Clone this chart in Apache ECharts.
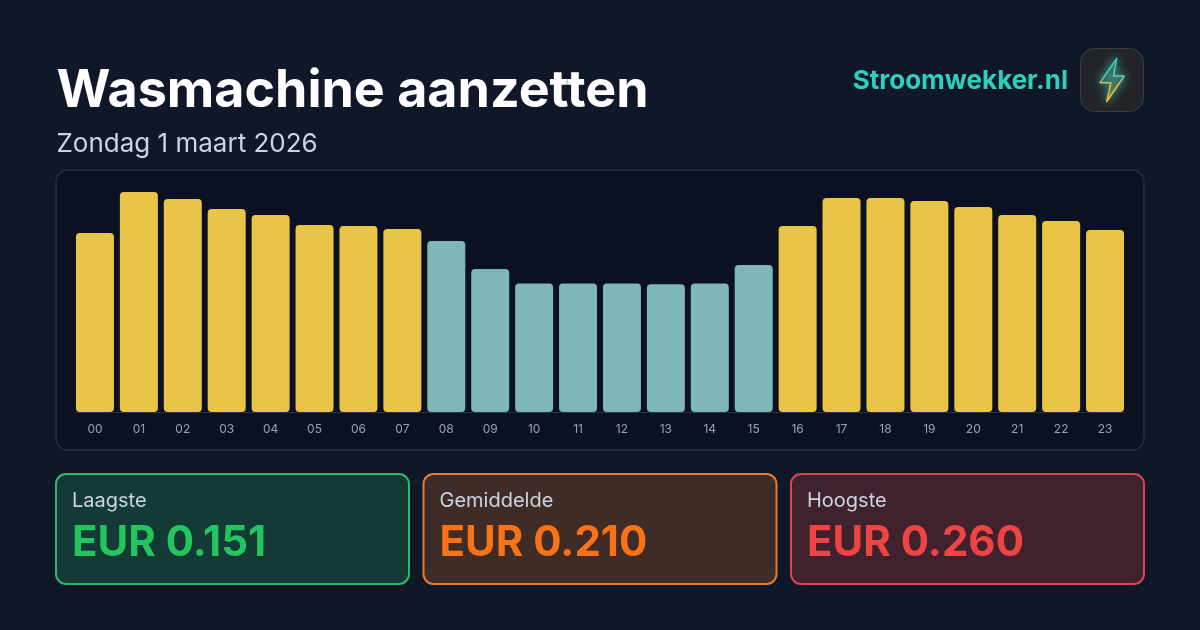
<!DOCTYPE html>
<html>
<head>
<meta charset="utf-8">
<style>html,body{margin:0;padding:0;background:#0f1729}#c{width:1200px;height:630px}</style>
<script src="https://cdn.jsdelivr.net/npm/echarts@6/dist/echarts.min.js"></script>
</head>
<body>
<div id="c"></div>
<script>
const hours = ['00','01','02','03','04','05','06','07','08','09','10','11','12','13','14','15','16','17','18','19','20','21','22','23'];
const prices = [0.2115,0.260,0.2517,0.240,0.2328,0.221,0.2198,0.2163,0.2021,0.169,0.152,0.152,0.152,0.151,0.152,0.1737,0.2198,0.2529,0.2529,0.2494,0.2423,0.2328,0.2257,0.2151];
const cheapHours = ['08','09','10','11','12','13','14','15'];
const titleText = 'Wasmachine aanzetten';
const subtitleText = 'Zondag 1 maart 2026';
const brandText = 'Stroomwekker.nl';
const statLabels = ['Laagste','Gemiddelde','Hoogste'];
const statValues = ['EUR 0.151','EUR 0.210','EUR 0.260'];

const FONT = 'Inter, "Noto Sans", sans-serif';
const statColors = [
  {line:'#2fb866', fill:'#143a35', text:'#22c55e'},
  {line:'#e67a2c', fill:'#402c27', text:'#f97316'},
  {line:'#d9474d', fill:'#40212e', text:'#ef4444'}
];
const statX = [56, 423.5, 791];
const statW = 353;

const cards = statLabels.flatMap((label, i) => [
  {type:'rect', silent:true, shape:{x:statX[i], y:474, width:statW, height:110, r:10},
   style:{fill:statColors[i].fill, stroke:statColors[i].line, lineWidth:2}},
  {type:'text', silent:true, style:{text:label, x:statX[i]+16, y:501, fill:'#cbd5e1', font:'400 20px '+FONT, textVerticalAlign:'middle'}},
  {type:'text', silent:true, style:{text:statValues[i], x:statX[i]+16, y:543.5, fill:statColors[i].text, font:'700 42px '+FONT, textVerticalAlign:'middle'}}
]);

const boltPts = [[1116.7,58.5],[1100,82.7],[1111,82.7],[1106.7,101.5],[1124.3,76],[1113.5,76]];
const boltStroke = {type:'linear',x:0,y:0,x2:0,y2:1,colorStops:[{offset:0,color:'#2dd4bf'},{offset:0.45,color:'#5fd0b0'},{offset:0.6,color:'#f0b84a'},{offset:1,color:'#fbbf24'}]};
const boltFill = {type:'linear',x:0,y:0,x2:0,y2:1,colorStops:[{offset:0,color:'rgba(30,120,115,0.7)'},{offset:0.5,color:'rgba(70,90,80,0.6)'},{offset:1,color:'rgba(190,130,40,0.7)'}]};

const chart = echarts.init(document.getElementById('c'), null, {renderer:'canvas'});
chart.setOption({
  animation:false,
  backgroundColor:'#0f1729',
  grid:{left:73, right:73, top:192, bottom:218},
  xAxis:{type:'category', data:hours,
    axisLine:{show:false}, axisTick:{show:false}, splitLine:{show:false},
    axisLabel:{color:'#94a3b8', fontSize:12, fontFamily:FONT, margin:11, interval:0}},
  yAxis:{type:'value', min:0, max:0.26, show:false},
  graphic:{elements:[
    {type:'rect', z:-10, silent:true, shape:{x:56,y:170,width:1088,height:280,r:12},
      style:{fill:'#0b1120', stroke:'#1e293b', lineWidth:2}},
    {type:'line', z:-5, silent:true, shape:{x1:76,y1:412.5,x2:1124,y2:412.5}, style:{stroke:'#263348', lineWidth:1}},
    {type:'text', silent:true, style:{text:titleText, x:56.5, y:91.5, fill:'#ffffff', font:'700 52px '+FONT, textVerticalAlign:'middle'}},
    {type:'text', silent:true, style:{text:subtitleText, x:56.5, y:144.5, fill:'#cbd5e1', font:'400 26px '+FONT, textVerticalAlign:'middle'}},
    {type:'text', silent:true, style:{text:brandText, x:1068, y:81.5, fill:'#2dd0bb', font:'700 26px '+FONT, textAlign:'right', textVerticalAlign:'middle'}},
    {type:'rect', silent:true, shape:{x:1080.5,y:48.5,width:63,height:63,r:14}, style:{fill:'#222528', stroke:'#3a3d42', lineWidth:1}},
    {type:'polygon', silent:true, shape:{points:boltPts},
      style:{fill:boltFill, stroke:boltStroke, lineWidth:1.4, shadowBlur:9, shadowColor:'rgba(60,200,180,1)', lineJoin:'round'}},
    ...cards
  ]},
  series:[{
    type:'bar', barWidth:38, silent:true,
    data:prices.map((v,i)=>({value:v, itemStyle:{color:cheapHours.includes(hours[i])?'#7db8b6':'#e8c547'}})),
    itemStyle:{borderRadius:4}
  }]
});
</script>
</body>
</html>
